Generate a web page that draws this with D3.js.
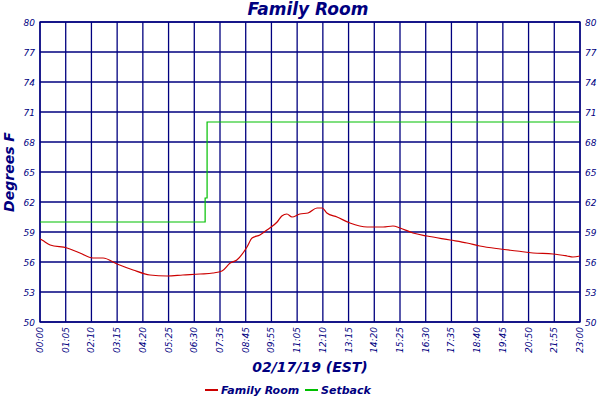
<!DOCTYPE html>
<html><head><meta charset="utf-8">
<script src="https://cdn.jsdelivr.net/npm/d3@7"></script>
<style>body{margin:0;background:#fff}text{font-family:"DejaVu Sans",sans-serif;fill:#00007f}</style>
</head><body><svg id="c" width="600" height="400"></svg>
<script>
const tickLabels=["00:00","01:05","02:10","03:15","04:20","05:25","06:30","07:35","08:45","09:55","11:05","12:10","13:15","14:20","15:25","16:30","17:35","18:40","19:45","20:50","21:55","23:00"];
const yTicks=[50,53,56,59,62,65,68,71,74,77,80];
const roomMinutes=[0,5,26,69,102,135,161,197,238,281,325,365,409,442,465,486,503,529,542,562,580,606,618,631,644,664,685,708,721,733,759,792,836,877,902,920,953,989,1048,1091,1124,1176,1219,1260,1311,1347,1362,1380];
const roomTemps=[58.3,58.2,57.7,57.4,56.9,56.4,56.4,55.8,55.2,54.7,54.6,54.7,54.8,54.9,55.1,55.9,56.2,57.5,58.4,58.7,59.2,60,60.6,60.8,60.5,60.8,60.9,61.4,61.4,60.9,60.5,59.9,59.5,59.5,59.6,59.4,58.9,58.6,58.2,57.9,57.6,57.3,57.1,56.9,56.8,56.6,56.5,56.6];
const setMinutes=[0,422,422,427,427,1380];
const setTemps=[60,60,62.4,62.4,70,70];

const svg=d3.select("#c");
const L=40,R=580,T=22,B=322;
const x=d3.scaleLinear().domain([0,1380]).range([L,R]);
const y=d3.scaleLinear().domain([50,80]).range([B,T]);
const tickPos=tickLabels.map((d,i)=>i*1380/21);
const navy="#00007f";
const g=svg.append("g");
g.selectAll(".vg").data(tickPos).join("line").attr("x1",d=>x(d)).attr("x2",d=>x(d)).attr("y1",T).attr("y2",B).attr("stroke",navy).attr("stroke-width",1.3);
g.selectAll(".hg").data(yTicks).join("line").attr("x1",L).attr("x2",R).attr("y1",d=>y(d)).attr("y2",d=>y(d)).attr("stroke",navy).attr("stroke-width",1.3);
g.append("rect").attr("x",L).attr("y",T).attr("width",R-L).attr("height",B-T).attr("fill","none").attr("stroke",navy).attr("stroke-width",1.3);
svg.selectAll(".yl").data(yTicks).join("text").attr("x",L-5).attr("y",d=>y(d)+4).attr("text-anchor","end").attr("font-size",9).attr("font-style","italic").text(d=>d);
svg.selectAll(".yr").data(yTicks).join("text").attr("x",R+5).attr("y",d=>y(d)+4).attr("font-size",9).attr("font-style","italic").text(d=>d);
svg.selectAll(".xl").data(tickLabels).join("text").attr("font-size",9).attr("font-style","italic").attr("text-anchor","end")
 .attr("transform",(d,i)=>`translate(${x(tickPos[i])+3},${B+5}) rotate(-90)`).text(d=>d);
const line=d3.line().x(d=>x(d[0])).y(d=>y(d[1]));
svg.append("path").datum(setMinutes.map((m,i)=>[m,setTemps[i]])).attr("d",line).attr("fill","none").attr("stroke","#00c000").attr("stroke-width",1.2);
svg.append("path").datum(roomMinutes.map((m,i)=>[m,roomTemps[i]])).attr("d",line.curve(d3.curveMonotoneX)).attr("fill","none").attr("stroke","#cc0000").attr("stroke-width",1.2);
svg.append("text").attr("x",308).attr("y",15).attr("text-anchor","middle").attr("font-size",17).attr("font-weight","bold").attr("font-style","italic").attr("font-family","Liberation Serif").text("Family Room");
svg.append("text").attr("transform","translate(14,172) rotate(-90)").attr("text-anchor","middle").attr("font-size",14).attr("font-weight","bold").attr("font-style","italic").attr("font-family","Liberation Serif").text("Degrees F");
svg.append("text").attr("x",310).attr("y",372).attr("text-anchor","middle").attr("font-size",14).attr("font-weight","bold").attr("font-style","italic").attr("font-family","Liberation Serif").text("02/17/19 (EST)");
const leg=[["Family Room","#cc0000",205],["Setback","#00c000",305]];
leg.forEach(([t,c,lx])=>{svg.append("line").attr("x1",lx).attr("x2",lx+13).attr("y1",390).attr("y2",390).attr("stroke",c).attr("stroke-width",2);
svg.append("text").attr("x",lx+16).attr("y",394).attr("font-size",11).attr("font-weight","bold").attr("font-style","italic").attr("font-family","Liberation Sans").text(t);});
</script></body></html>
